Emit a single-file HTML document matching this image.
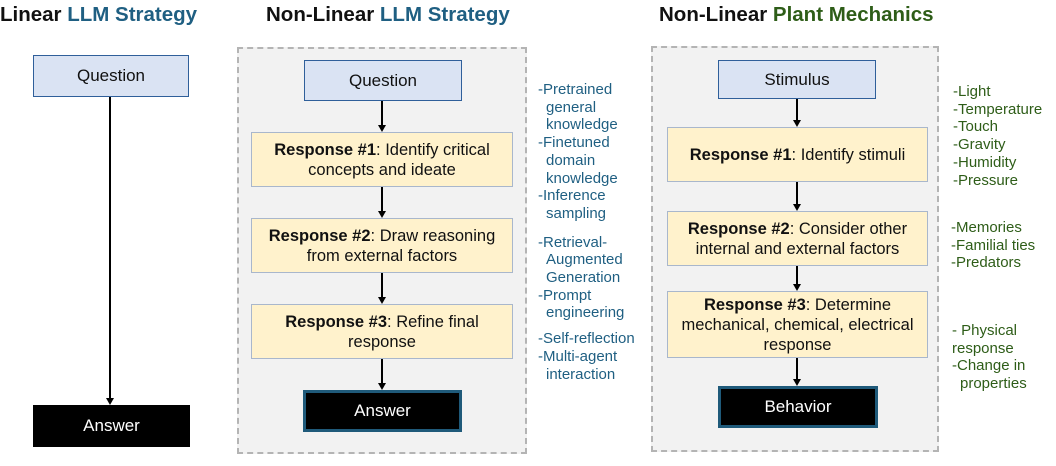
<!DOCTYPE html>
<html><head><meta charset="utf-8"><style>
*{margin:0;padding:0;box-sizing:border-box}
body{width:1056px;height:466px;background:#fff;position:relative;overflow:hidden;font-family:"Liberation Sans",Arial,sans-serif;color:#111}
.a{position:absolute}
.t{font-size:20.5px;font-weight:bold;white-space:nowrap;top:3px}
.blue{color:#1f5f82}.green{color:#2e5d18}
.dash{border:2px dashed #b4b4b4;background:#f2f2f2}
.q{background:#dae3f3;border:1.5px solid #2f5f9a;display:flex;align-items:center;justify-content:center;font-size:17px}
.r{background:#fff2cc;border:1.5px solid #a9b7cc;display:flex;align-items:center;justify-content:center;text-align:center;font-size:16.5px;line-height:20px}
.k{background:#000;color:#fff;display:flex;align-items:center;justify-content:center;font-size:17px}
.kb{border:3px solid #1f5a7a}
.v{width:2px;background:#000}
.ah{width:0;height:0;border-left:4px solid transparent;border-right:4px solid transparent;border-top:7px solid #000}
.l{font-size:15px;line-height:17.7px;white-space:nowrap}
.l div{padding-left:8px;text-indent:-8px}
</style></head><body>
<div class="a t" style="left:0">Linear <span class="blue">LLM Strategy</span></div>
<div class="a t" style="left:266px">Non-Linear <span class="blue">LLM Strategy</span></div>
<div class="a t" style="left:659px">Non-Linear <span class="green">Plant Mechanics</span></div>

<div class="a q" style="left:33px;top:55px;width:156px;height:42px">Question</div>
<div class="a v" style="left:109px;top:97px;height:302px"></div>
<div class="a ah" style="left:106px;top:398px"></div>
<div class="a k" style="left:33px;top:405px;width:157px;height:42px">Answer</div>

<div class="a dash" style="left:237px;top:47px;width:290px;height:407px"></div>
<div class="a q" style="left:304px;top:60px;width:158px;height:41px">Question</div>
<div class="a r" style="left:251px;top:132px;width:262px;height:55px"><span><b>Response #1</b>: Identify critical<br>concepts and ideate</span></div>
<div class="a r" style="left:251px;top:218px;width:262px;height:55px"><span><b>Response #2</b>: Draw reasoning<br>from external factors</span></div>
<div class="a r" style="left:251px;top:304px;width:262px;height:55px"><span><b>Response #3</b>: Refine final<br>response</span></div>
<div class="a k kb" style="left:303px;top:390px;width:159px;height:42px">Answer</div>
<div class="a v" style="left:381px;top:101px;height:25px"></div><div class="a ah" style="left:378px;top:125px"></div>
<div class="a v" style="left:381px;top:187px;height:25px"></div><div class="a ah" style="left:378px;top:211px"></div>
<div class="a v" style="left:381px;top:273px;height:25px"></div><div class="a ah" style="left:378px;top:297px"></div>
<div class="a v" style="left:381px;top:359px;height:25px"></div><div class="a ah" style="left:378px;top:383px"></div>

<div class="a l blue" style="left:538px;top:81px">
<div>-Pretrained<br>general<br>knowledge</div>
<div>-Finetuned<br>domain<br>knowledge</div>
<div>-Inference<br>sampling</div>
<div style="margin-top:11px">-Retrieval-<br>Augmented<br>Generation</div>
<div>-Prompt<br>engineering</div>
<div style="margin-top:8px">-Self-reflection</div>
<div>-Multi-agent<br>interaction</div>
</div>

<div class="a dash" style="left:651px;top:46px;width:288px;height:406px"></div>
<div class="a q" style="left:718px;top:60px;width:158px;height:39px">Stimulus</div>
<div class="a r" style="left:667px;top:127px;width:261px;height:55px"><span><b>Response #1</b>: Identify stimuli</span></div>
<div class="a r" style="left:667px;top:211px;width:261px;height:55px"><span><b>Response #2</b>: Consider other<br>internal and external factors</span></div>
<div class="a r" style="left:667px;top:291px;width:261px;height:67px"><span><b>Response #3</b>: Determine<br>mechanical, chemical, electrical<br>response</span></div>
<div class="a k kb" style="left:718px;top:386px;width:160px;height:42px">Behavior</div>
<div class="a v" style="left:796px;top:99px;height:22px"></div><div class="a ah" style="left:793px;top:120px"></div>
<div class="a v" style="left:796px;top:182px;height:23px"></div><div class="a ah" style="left:793px;top:204px"></div>
<div class="a v" style="left:796px;top:266px;height:19px"></div><div class="a ah" style="left:793px;top:284px"></div>
<div class="a v" style="left:796px;top:358px;height:22px"></div><div class="a ah" style="left:793px;top:379px"></div>

<div class="a l green" style="left:953px;top:83px">
<div>-Light</div><div>-Temperature</div><div>-Touch</div><div>-Gravity</div><div>-Humidity</div><div>-Pressure</div>
</div>
<div class="a l green" style="left:951px;top:219px">
<div>-Memories</div><div>-Familial ties</div><div>-Predators</div>
</div>
<div class="a l green" style="left:952px;top:322px">
<div style="text-indent:0;padding-left:0">- Physical<br>response</div><div>-Change in<br>properties</div>
</div>
</body></html>
